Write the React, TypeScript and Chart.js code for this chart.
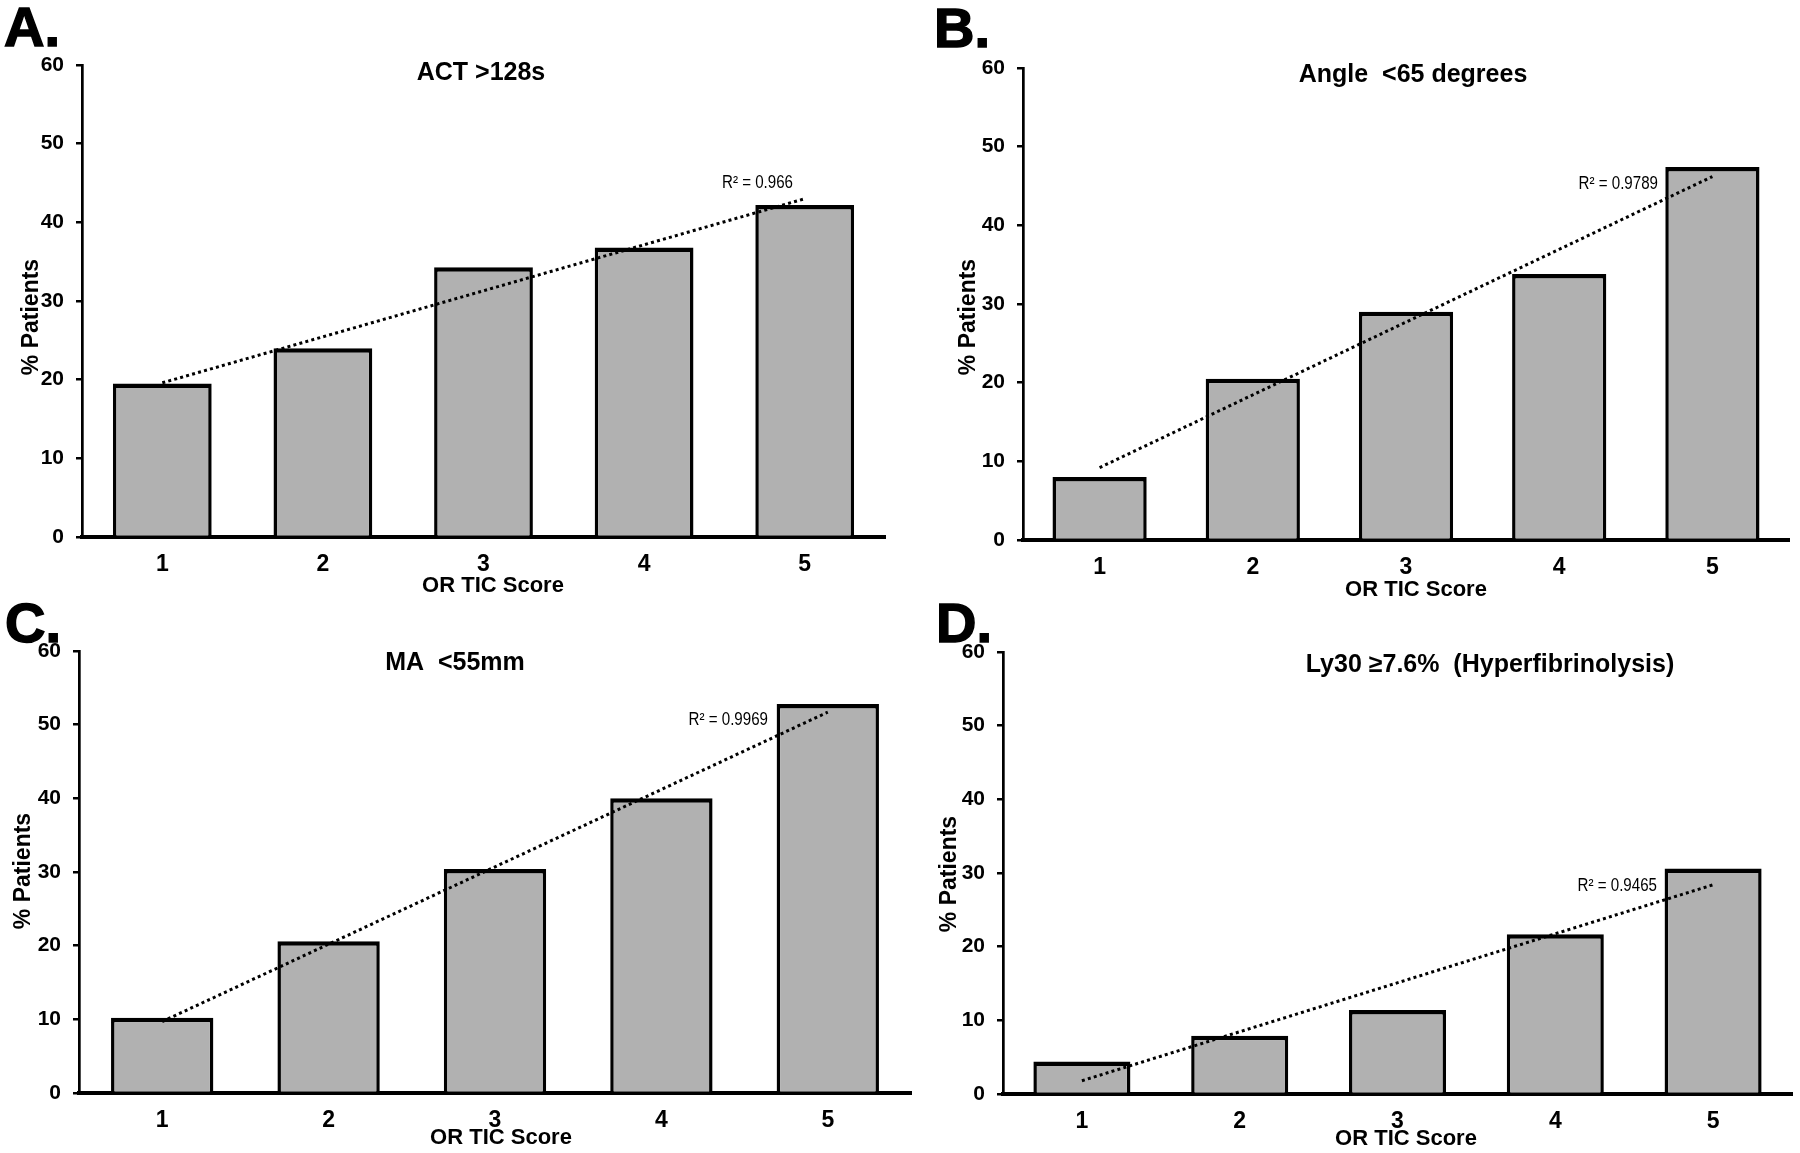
import React, { useEffect, useRef } from 'react';
import { Chart, registerables } from 'chart.js';

Chart.register(...registerables);

// ---------------- data ----------------
const categories = ['1', '2', '3', '4', '5'];
const actValues = [19.5, 24.0, 34.3, 36.8, 42.2];
const angleValues = [8.0, 20.5, 29.0, 33.8, 47.4];
const maValues = [10.2, 20.6, 30.4, 40.0, 52.8];
const ly30Values = [4.4, 7.9, 11.4, 21.7, 30.6];
// linear trendline end points (read at score 1 and score 5)
const actTrend = [19.6, null, null, null, 43.0];
const angleTrend = [9.2, null, null, null, 46.2];
const maTrend = [9.7, null, null, null, 51.7];
const ly30Trend = [1.8, null, null, null, 28.4];
const panelLetters = ['A.', 'B.', 'C.', 'D.'];
const panelTitles = ['ACT >128s', 'Angle  <65 degrees', 'MA  <55mm', 'Ly30 \u22657.6%  (Hyperfibrinolysis)'];
const r2Labels = ['R\u00b2 = 0.966', 'R\u00b2 = 0.9789', 'R\u00b2 = 0.9969', 'R\u00b2 = 0.9465'];
const xAxisTitle = 'OR TIC Score';
const yAxisTitle = '% Patients';
const yMin = 0;
const yMax = 60;
const yStep = 10;

// ---------------- layout / style ----------------
const FW = 1800;
const FH = 1153;
const YW = 60;
const XH = 50;
const FAMILY = '"Liberation Sans", Arial, Helvetica, sans-serif';

const PANELS = [
  {
    values: actValues, trend: actTrend,
    area: { left: 82, right: 885, top: 65, bottom: 537 },
    letter: { x: 4, y: 46 }, title: { x: 481, y: 73 }, yTitle: { x: 32, y: 317 },
    xTitle: { x: 493, y: 586 }, r2: { x: 793, y: 183 },
  },
  {
    values: angleValues, trend: angleTrend,
    area: { left: 1023, right: 1789, top: 68, bottom: 540 },
    letter: { x: 934, y: 47 }, title: { x: 1413, y: 75 }, yTitle: { x: 969, y: 317 },
    xTitle: { x: 1416, y: 590 }, r2: { x: 1658, y: 184 },
  },
  {
    values: maValues, trend: maTrend,
    area: { left: 79, right: 911, top: 651, bottom: 1093 },
    letter: { x: 5, y: 642 }, title: { x: 455, y: 663 }, yTitle: { x: 24, y: 871 },
    xTitle: { x: 501, y: 1138 }, r2: { x: 768, y: 720 },
  },
  {
    values: ly30Values, trend: ly30Trend,
    area: { left: 1003, right: 1792, top: 652, bottom: 1094 },
    letter: { x: 936, y: 642 }, title: { x: 1490, y: 665 }, yTitle: { x: 950, y: 874 },
    xTitle: { x: 1406, y: 1139 }, r2: { x: 1657, y: 886 },
  },
];

function makeDecor(idx: number) {
  const p = PANELS[idx];
  return {
    id: 'panelDecor' + idx,
    afterDraw(chart: any) {
      const ctx = chart.ctx;
      ctx.save();
      ctx.fillStyle = '#000';
      ctx.strokeStyle = '#000';
      // panel letter
      ctx.font = `bold 56px ${FAMILY}`;
      ctx.textAlign = 'left';
      ctx.textBaseline = 'alphabetic';
      ctx.lineWidth = 1.5;
      ctx.fillText(panelLetters[idx], p.letter.x, p.letter.y);
      ctx.strokeText(panelLetters[idx], p.letter.x, p.letter.y);
      // title
      ctx.font = `bold 25px ${FAMILY}`;
      ctx.textAlign = 'center';
      ctx.textBaseline = 'middle';
      ctx.fillText(panelTitles[idx], p.title.x, p.title.y);
      // x title
      ctx.font = `bold 22px ${FAMILY}`;
      ctx.fillText(xAxisTitle, p.xTitle.x, p.xTitle.y);
      // y title
      ctx.save();
      ctx.translate(p.yTitle.x, p.yTitle.y);
      ctx.rotate(-Math.PI / 2);
      ctx.font = `bold 23px ${FAMILY}`;
      ctx.fillText(yAxisTitle, 0, 0);
      ctx.restore();
      // R^2 label
      ctx.save();
      ctx.translate(p.r2.x, p.r2.y);
      ctx.scale(0.84, 1);
      ctx.font = `18px ${FAMILY}`;
      ctx.textAlign = 'right';
      ctx.fillText(r2Labels[idx], 0, 0);
      ctx.restore();
      ctx.restore();
    },
  };
}

function Panel({ idx }: { idx: number }) {
  const ref = useRef<HTMLCanvasElement | null>(null);
  useEffect(() => {
    const p = PANELS[idx];
    const chart = new Chart(ref.current as HTMLCanvasElement, {
      type: 'bar',
      data: {
        labels: categories,
        datasets: [
          {
            type: 'line',
            data: p.trend,
            borderColor: '#000',
            borderWidth: 3,
            borderDash: [3, 3.2],
            pointRadius: 0,
            spanGaps: true,
            fill: false,
            tension: 0,
            order: 0,
          } as any,
          {
            type: 'bar',
            data: p.values,
            backgroundColor: '#b1b1b1',
            borderColor: '#000',
            borderWidth: { top: 4.5, left: 3.5, right: 3.5, bottom: 0 },
            barPercentage: 0.615,
            categoryPercentage: 1,
            order: 1,
          } as any,
        ],
      },
      options: {
        responsive: false,
        animation: false,
        devicePixelRatio: 1,
        events: [],
        layout: {
          autoPadding: false,
          padding: {
            left: p.area.left - YW,
            right: FW - p.area.right,
            top: p.area.top,
            bottom: FH - p.area.bottom - XH,
          },
        },
        plugins: {
          legend: { display: false },
          tooltip: { enabled: false },
          title: { display: false },
        },
        scales: {
          x: {
            grid: { display: false, drawTicks: false },
            border: { display: true, color: '#000', width: 4 },
            ticks: { color: '#000', font: { family: FAMILY, size: 23, weight: 'bold' }, padding: 14 },
            afterFit: (s: any) => { s.height = XH; },
          },
          y: {
            min: yMin,
            max: yMax,
            ticks: { stepSize: yStep, color: '#000', font: { family: FAMILY, size: 21, weight: 'bold' }, padding: 12 },
            grid: { display: true, drawOnChartArea: false, drawTicks: true, tickLength: 6, color: '#000', lineWidth: 2.5 },
            border: { display: true, color: '#000', width: 2.7 },
            afterFit: (s: any) => { s.width = YW; },
          },
        },
      } as any,
      plugins: [makeDecor(idx)],
    });
    return () => chart.destroy();
  }, [idx]);
  return (
    <canvas
      ref={ref}
      width={FW}
      height={FH}
      style={{ position: 'absolute', left: 0, top: 0, width: FW, height: FH }}
    />
  );
}

export default function App() {
  return (
    <div style={{ position: 'absolute', left: 0, top: 0, width: FW, height: FH, background: '#fff', overflow: 'hidden' }}>
      {PANELS.map((_, i) => (
        <Panel key={i} idx={i} />
      ))}
    </div>
  );
}
